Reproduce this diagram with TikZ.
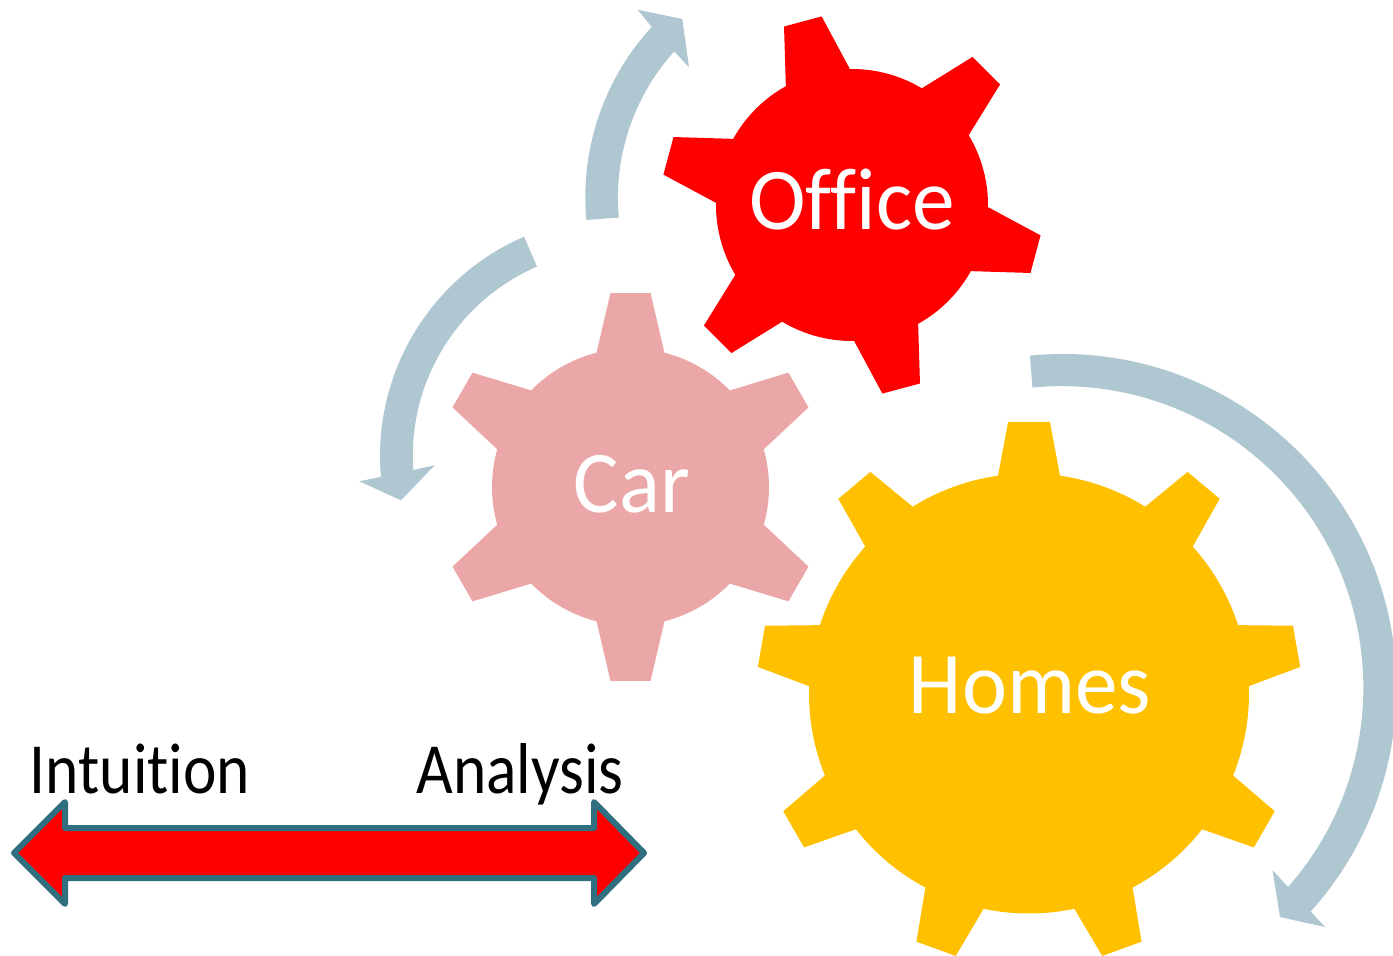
\documentclass[tikz,border=0pt]{standalone}
\usepackage{fontspec}
\setmainfont{Carlito}[Ligatures=NoCommon]
\newfontfamily\gearfont{Carlito}[Ligatures=NoCommon, FakeStretch=0.97]
\newfontfamily\sidefont{Carlito}[Ligatures=NoCommon, FakeStretch=0.88]
\definecolor{gearred}{HTML}{FF0000}
\definecolor{gearpink}{HTML}{EBA7A8}
\definecolor{gearyellow}{HTML}{FFC000}
\definecolor{arcblue}{HTML}{AFC7D1}
\definecolor{barteal}{HTML}{2F6F80}
\tikzset{
  geartext/.style={text=white, anchor=base, font=\gearfont\fontsize{44}{44}\selectfont},
  sidetext/.style={text=black, anchor=base, font=\sidefont\fontsize{36}{36}\selectfont},
  bararrow/.style={draw=barteal, fill=gearred, line width=3pt, line join=round},
  turnarrow/.style={fill=arcblue}
}
% style, centre, base radius, tip radius, base half angle, tip half angle, first tooth, teeth
\newcommand{\gearshape}[8]{
  \fill[#1, shift={(#2)}] (#7-#5:#3)
    \foreach \i [evaluate=\i as \a using #7+(\i-1)*360/#8] in {1,...,#8} {
      -- (\a-#5:#3) -- (\a-#6:#4) -- (\a+#6:#4) -- (\a+#5:#3)
      arc[start angle=\a+#5, end angle=\a+360/#8-#5, radius=#3]
    } -- cycle;
}
\begin{document}
\begin{tikzpicture}[x=0.5pt, y=0.5pt]
  \useasboundingbox (0,0) rectangle (1393,955);
  \gearshape{fill=gearred}{852,750}{136}{191}{14.1}{5.85}{105}{6}
  \gearshape{fill=gearpink}{630.5,468}{138.5}{195}{14.2}{5.9}{90}{6}
  \gearshape{fill=gearyellow}{1029,261.5}{220}{272.5}{8.1}{4.4}{90}{9}
  \node[geartext] (office) at (852,725) {Office};
  \node[geartext] (car) at (632,443) {Car};
  \node[geartext] (homes) at (1030,242) {Homes};
  % curved arrows
  \fill[turnarrow] (836.8,757.8) ++(185.2:251.5) arc[start angle=185.2, end angle=137.4, radius=251.5]
    -- (637.7,945.3) -- (682.3,936) -- (689,887.7) -- (674.3,903.7)
    arc[start angle=137.9, end angle=185.2, radius=218.5] -- cycle;
  \fill[turnarrow] (619,499) ++(113.4:239) arc[start angle=113.4, end angle=185, radius=239]
    -- (359.3,473.7) -- (401,454.7) -- (434.7,489.7) -- (413.3,485)
    arc[start angle=184, end angle=113.4, radius=206] -- cycle;
  \fill[turnarrow] (1062.5,267) ++(95.6:334) arc[start angle=95.6, end angle=-42, radius=334]
    -- (1325,28) -- (1280,38) -- (1272.5,85) -- (1288,68)
    arc[start angle=-41.4, end angle=95.6, radius=301.5] -- cycle;
  % intuition to analysis
  \node[sidetext] (intuition) at (140,162) {Intuition};
  \node[sidetext] (analysis) at (520,162) {Analysis};
  \draw[bararrow] (14,102) -- (65,153) -- (65,127) -- (594,127) -- (594,153) -- (644,102)
    -- (594,51) -- (594,77) -- (65,77) -- (65,51) -- cycle;
\end{tikzpicture}
\end{document}
